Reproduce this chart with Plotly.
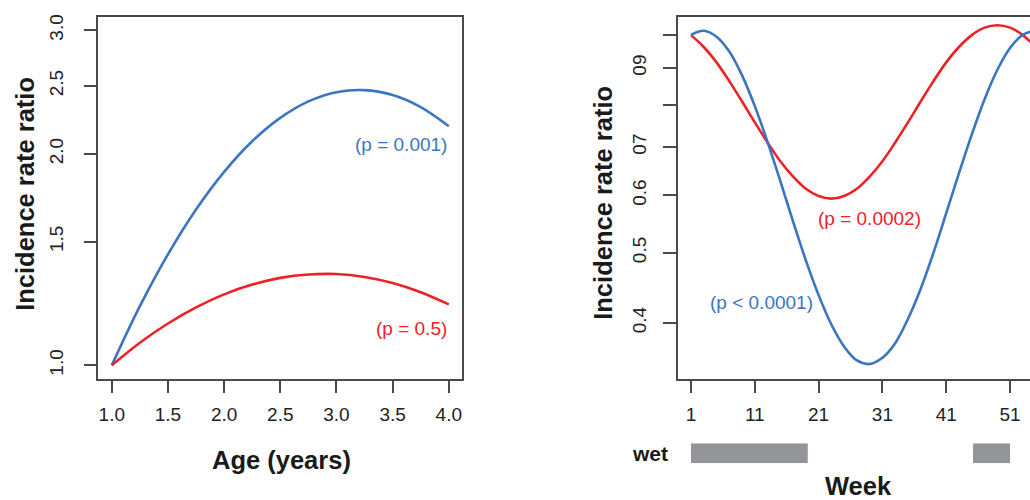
import numpy as np
import plotly.graph_objects as go

# ---------------- data ----------------
age = [1.0, 1.25, 1.5, 1.75, 2.0, 2.25, 2.5, 2.75, 3.0, 3.25, 3.5, 3.75, 4.0]
age_blue = [1.000, 1.214, 1.439, 1.667, 1.886, 2.085, 2.251, 2.376, 2.449, 2.466, 2.426, 2.332, 2.190]
age_red = [1.000, 1.077, 1.147, 1.209, 1.262, 1.303, 1.332, 1.347, 1.349, 1.336, 1.310, 1.271, 1.221]
age_ticks = [1.0, 1.5, 2.0, 2.5, 3.0, 3.5, 4.0]
age_ticktext = ["1.0", "1.5", "2.0", "2.5", "3.0", "3.5", "4.0"]
irr_ticks_left = [1.0, 1.5, 2.0, 2.5, 3.0]
irr_ticktext_left = ["1.0", "1.5", "2.0", "2.5", "3.0"]

week = [1, 3, 5, 7, 9, 11, 13, 15, 17, 19, 21, 23, 25, 27,
        29, 31, 33, 35, 37, 39, 41, 43, 45, 47, 49, 51, 53, 55]
week_red = [0.999, 0.962, 0.916, 0.863, 0.809, 0.757, 0.710, 0.669, 0.637, 0.613,
            0.599, 0.594, 0.599, 0.613, 0.637, 0.669, 0.710, 0.757, 0.809, 0.863,
            0.916, 0.962, 0.999, 1.023, 1.031, 1.023, 0.999, 0.962]
week_blue = [1.000, 1.013, 0.994, 0.948, 0.879, 0.797, 0.711, 0.628, 0.552, 0.488,
             0.437, 0.398, 0.371, 0.355, 0.351, 0.358, 0.375, 0.405, 0.446, 0.500,
             0.567, 0.644, 0.728, 0.814, 0.894, 0.959, 1.000, 1.013]
week_ticks = [1, 11, 21, 31, 41, 51]
irr_ticks_right = [0.4, 0.5, 0.6, 0.7, 0.8, 0.9, 1.0]
irr_ticktext_right = ["0.4", "0.5", "0.6", "07", "", "09", ""]
wet_start = [1.0, 45.2]
wet_end = [19.3, 51.0]

BLUE = "#3a76c0"
RED = "#ec2227"
AXC = "#4a4a4a"
FONT = "Liberation Sans, Arial, Helvetica, sans-serif"
W, H = 1030, 500


def px(x):
    return x / W


def py(y):
    return 1 - y / H


fig = go.Figure()

# left panel
fig.add_trace(go.Scatter(x=age, y=age_blue, mode="lines", line=dict(color=BLUE, width=2.6, shape="spline"),
                         xaxis="x", yaxis="y", showlegend=False, hoverinfo="skip"))
fig.add_trace(go.Scatter(x=age, y=age_red, mode="lines", line=dict(color=RED, width=2.6, shape="spline"),
                         xaxis="x", yaxis="y", showlegend=False, hoverinfo="skip"))
# right panel
fig.add_trace(go.Scatter(x=week, y=week_red, mode="lines", line=dict(color=RED, width=2.6, shape="spline"),
                         xaxis="x2", yaxis="y2", showlegend=False, hoverinfo="skip"))
fig.add_trace(go.Scatter(x=week, y=week_blue, mode="lines", line=dict(color=BLUE, width=2.6, shape="spline"),
                         xaxis="x2", yaxis="y2", showlegend=False, hoverinfo="skip"))
# wet season strip
fig.add_trace(go.Bar(y=[0, 0], x=[e - s for s, e in zip(wet_start, wet_end)], base=wet_start,
                     orientation="h", width=1, marker=dict(color="#939598", line=dict(width=0)),
                     xaxis="x3", yaxis="y3", showlegend=False, hoverinfo="skip"))

tickfont = dict(family=FONT, size=19, color="#222222")
common = dict(showgrid=False, zeroline=False, showline=True, linecolor=AXC, linewidth=1.5,
              ticks="outside", ticklen=13, tickwidth=1.5, tickcolor=AXC, tickfont=tickfont)

fig.update_layout(
    width=W, height=H, margin=dict(l=0, r=0, t=0, b=0),
    paper_bgcolor="white", plot_bgcolor="white",
    barmode="overlay",
    xaxis=dict(domain=[px(98.3), px(462.3)], range=[0.88, 4.12], anchor="y", mirror=True,
               tickmode="array", tickvals=age_ticks, ticktext=age_ticktext,
               ticklabelstandoff=5, **common),
    yaxis=dict(domain=[py(378), py(14)], type="log", range=[-0.0191, 0.4962], anchor="x", mirror=True,
               tickmode="array", tickvals=irr_ticks_left, ticktext=irr_ticktext_left, tickangle=-90,
               ticklabelstandoff=13, **common),
    xaxis2=dict(domain=[px(677.7), 1.0], range=[-1.085, 54.13], anchor="y2", mirror=True,
                tickmode="array", tickvals=week_ticks, ticktext=[str(w) for w in week_ticks],
                ticklabelstandoff=5, **common),
    yaxis2=dict(domain=[py(378), py(14)], type="log", range=[-0.475, 0.0247], anchor="x2", mirror=False,
                tickmode="array", tickvals=irr_ticks_right, ticktext=irr_ticktext_right, tickangle=-90,
                ticklabelstandoff=9, **common),
    xaxis3=dict(domain=[px(677.7), 1.0], range=[-1.085, 54.13], anchor="y3", visible=False),
    yaxis3=dict(domain=[py(463), py(443)], range=[-0.5, 0.5], anchor="x3", visible=False),
)

ann = []
# p-value labels
ann.append(dict(x=4.0, y=np.log10(2.06), xref="x", yref="y", text="(p = 0.001)", showarrow=False,
                xanchor="right", yanchor="middle", font=dict(family=FONT, size=19, color=BLUE)))
ann.append(dict(x=4.0, y=np.log10(1.13), xref="x", yref="y", text="(p = 0.5)", showarrow=False,
                xanchor="right", yanchor="middle", font=dict(family=FONT, size=19, color=RED)))
ann.append(dict(x=29.05, y=np.log10(0.557), xref="x2", yref="y2", text="(p = 0.0002)", showarrow=False,
                xanchor="center", yanchor="middle", font=dict(family=FONT, size=19, color=RED)))
ann.append(dict(x=12.1, y=np.log10(0.427), xref="x2", yref="y2", text="(p &lt; 0.0001)", showarrow=False,
                xanchor="center", yanchor="middle", font=dict(family=FONT, size=19, color=BLUE)))
# axis titles
title_font = dict(family=FONT, size=25.5, color="#1a1a1a")
ann.append(dict(x=px(281), y=py(460), xref="paper", yref="paper", text="<b>Age (years)</b>", showarrow=False,
                xanchor="center", yanchor="middle", font=title_font))
ann.append(dict(x=px(25), y=py(192), xref="paper", yref="paper", text="<b>Incidence rate ratio</b>",
                showarrow=False, textangle=-90, xanchor="center", yanchor="middle", font=title_font))
ann.append(dict(x=px(603), y=py(201), xref="paper", yref="paper", text="<b>Incidence rate ratio</b>",
                showarrow=False, textangle=-90, xanchor="center", yanchor="middle", font=title_font))
ann.append(dict(x=px(858), y=py(486), xref="paper", yref="paper", text="<b>Week</b>", showarrow=False,
                xanchor="center", yanchor="middle", font=title_font))
ann.append(dict(x=px(670), y=py(453), xref="paper", yref="paper", text="<b>wet</b>", showarrow=False,
                xanchor="right", yanchor="middle", font=dict(family=FONT, size=21, color="#1a1a1a")))
fig.update_layout(annotations=ann)

fig.write_html("out.html", config={"displayModeBar": False},
               post_script="document.body.style.margin='0px';document.body.style.padding='0px';")
